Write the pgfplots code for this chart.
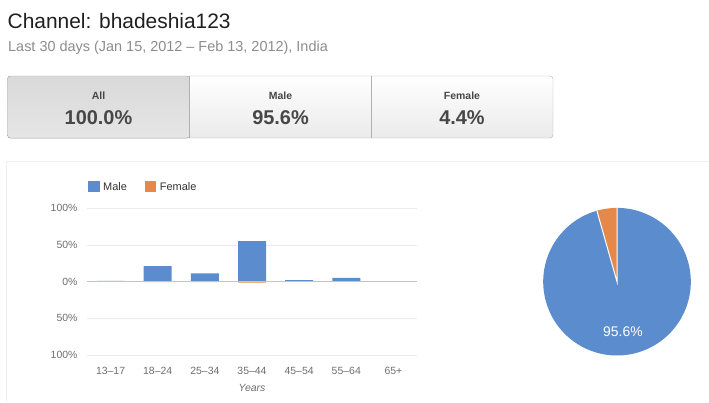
\documentclass[border=0pt]{standalone}
\usepackage{pgfplots}
\pgfplotsset{compat=1.18}
\usepackage{fontspec}
\setmainfont{Liberation Sans}
\definecolor{malec}{HTML}{5B8DCE}
\definecolor{femc}{HTML}{E5894A}
\definecolor{gridc}{HTML}{EBEBEB}
\definecolor{zeroc}{HTML}{C4C4C4}
\definecolor{labc}{HTML}{6E6E6E}
\definecolor{tabtxt}{HTML}{474747}
\definecolor{tabline}{HTML}{B0B0B0}
\newcommand{\fs}[1]{\fontsize{#1}{#1}\selectfont}
\begin{document}
\begin{tikzpicture}[x=1bp,y=1bp]
\path[use as bounding box] (0,0) rectangle (709,402);
% header
\node[anchor=base west,inner sep=0pt,text=black!88] at (7.5,373.7) {\fs{21}Channel: bhadeshia123};
\node[anchor=base west,inner sep=0pt,text=black!45] at (8,350.3) {\fs{14.5}Last 30 days (Jan 15, 2012 -- Feb 13, 2012), India};
% tabs
\shade[rounded corners=3bp,top color=white,bottom color=black!8] (7.5,264) rectangle (553,326);
\fill[rounded corners=3bp,top color=black!15,bottom color=black!10] (7.5,326) -- (189.5,326) -- (189.5,264) -- (7.5,264) -- cycle;
\draw[tabline,rounded corners=3bp] (7.5,264) rectangle (553,326);
\draw[tabline] (189.5,264) -- (189.5,326) (371.5,264) -- (371.5,326);
\foreach \cx/\lab/\val in {98.5/All/100.0\%,280.5/Male/95.6\%,462/Female/4.4\%}{
  \node[anchor=base,inner sep=0pt,text=tabtxt,font=\bfseries] at (\cx,303) {\fs{10.5}\lab};
  \node[anchor=base,inner sep=0pt,text=tabtxt,font=\bfseries] at (\cx,278) {\fs{20}\val};
}
% panel
\draw[black!6] (6,0) -- (6,241) -- (709,241);
% bar chart
\begin{axis}[
  at={(87bp,47bp)}, anchor=south west,
  scale only axis, width=330bp, height=147bp,
  xmin=-0.5, xmax=6.5, ymin=-100, ymax=100,
  axis line style={draw=none}, major tick length=0pt,
  ymajorgrids, grid style={gridc},
  ytick={-100,-50,0,50,100},
  yticklabels={100\%,50\%,0\%,50\%,100\%},
  xtick={0,...,6},
  xticklabels={13–17,18–24,25–34,35–44,45–54,55–64,65+},
  tick label style={text=labc,font=\fs{10.5}},
  yticklabel style={xshift=-6bp},
  xticklabel style={yshift=-9bp},
  xlabel={Years}, xlabel style={text=labc,font=\fs{10.5}\itshape,yshift=-3bp},
  legend style={draw=none,fill=none,at={(axis description cs:0.003,1.143)},anchor=west,
    inner sep=0pt,font=\fs{11},text=black!80,
    /tikz/every even column/.append style={column sep=16bp}},
  legend columns=2,
  legend image code/.code={\fill[#1] (0bp,-5.5bp) rectangle (11.5bp,5.5bp); \path (13bp,0);},
]
\addplot[ybar,bar width=28bp,bar shift=0pt,fill=malec,draw=none]
  coordinates {(0,1.0) (1,21.0) (2,11.0) (3,55.0) (4,2.0) (5,5.0) (6,0.6)};
\addlegendentry{Male}
\addplot[ybar,bar width=28bp,bar shift=0pt,fill=femc,draw=none]
  coordinates {(0,-0.2) (1,-0.8) (2,-1.0) (3,-1.4) (4,-0.2) (5,-0.3) (6,-0.5)};
\addlegendentry{Female}
\draw[zeroc,line width=0.8bp] (axis cs:-0.5,0) -- (axis cs:6.5,0);
\end{axis}
% pie
\begin{axis}[
  at={(617bp,120.3bp)}, anchor=center,
  scale only axis, width=147.6bp, height=147.6bp,
  xmin=-1, xmax=1, ymin=-1, ymax=1, hide axis,
]
\pgfmathsetmacro{\fem}{4.4}
\pgfmathsetmacro{\split}{90+3.6*\fem}
\pgfmathsetmacro{\sx}{cos(\split)}
\pgfmathsetmacro{\sy}{sin(\split)}
\fill[femc] (axis cs:0,0) -- (axis cs:0,1) arc[start angle=90,end angle=\split,radius=73.8bp] -- cycle;
\fill[malec] (axis cs:0,0) -- (axis cs:\sx,\sy) arc[start angle=\split,end angle=450,radius=73.8bp] -- cycle;
\draw[white,line width=1bp] (axis cs:0,1) -- (axis cs:0,0) -- (axis cs:\sx,\sy);
\node[text=white,font=\fs{14}] at (axis cs:0.08,-0.68) {95.6\%};
\end{axis}
\end{tikzpicture}
\end{document}
